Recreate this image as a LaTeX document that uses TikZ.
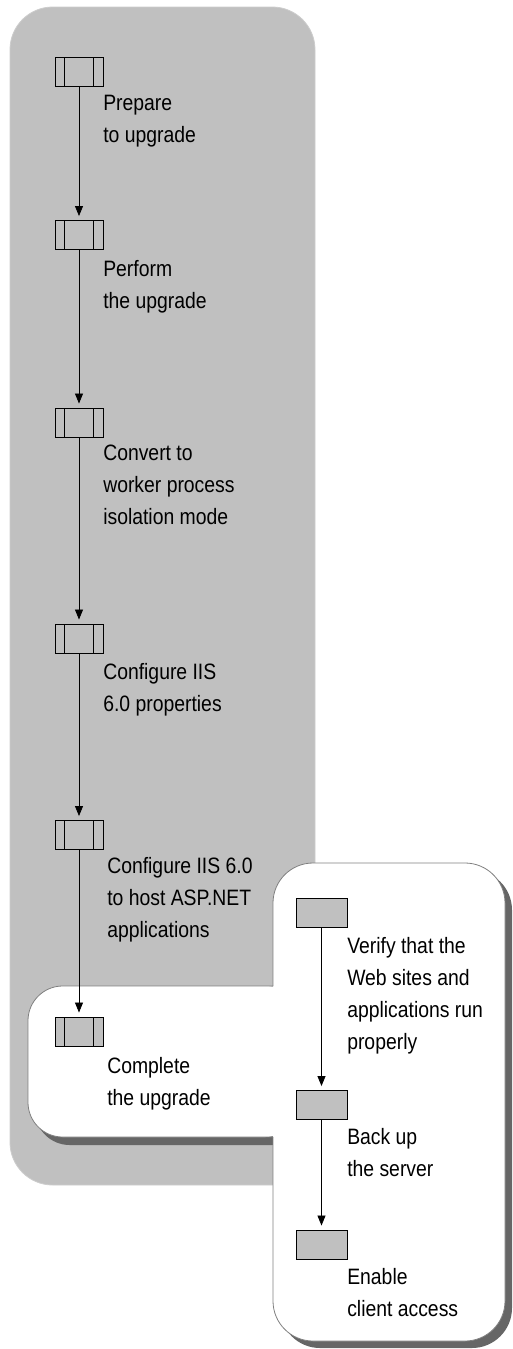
\documentclass[tikz,border=0pt]{standalone}
\usepackage{fontspec}
\setmainfont{Liberation Sans}[FakeStretch=0.87]
\usepackage{tikz}
\usetikzlibrary{arrows.meta}
\definecolor{panelgray}{HTML}{C0C0C0}
\definecolor{shadowgray}{HTML}{666666}
\definecolor{rimgray}{HTML}{808080}

\begin{document}
\begin{tikzpicture}[x=0.75pt, y=-0.75pt,
    stepbox/.style={draw, fill=panelgray, line width=0.7pt, minimum width=36pt, minimum height=21.75pt, inner sep=0pt,
        path picture={
            \draw[line width=0.7pt] ([xshift=6.75pt]path picture bounding box.north west) -- ([xshift=6.75pt]path picture bounding box.south west);
            \draw[line width=0.7pt] ([xshift=-7.5pt]path picture bounding box.north east) -- ([xshift=-7.5pt]path picture bounding box.south east);}},
    taskbox/.style={draw, fill=panelgray, line width=0.7pt, minimum width=38.25pt, minimum height=21.75pt, inner sep=0pt},
    lbl/.style={anchor=north west, inner sep=0pt, align=left, font=\fontsize{16.7}{24}\selectfont},
    flow/.style={line width=0.6pt, -{Triangle[length=7.5pt, width=6pt]}, shorten >=3pt}]
    \useasboundingbox (0,0) rectangle (512,1349);

    % panels
    \filldraw[fill=panelgray, draw=panelgray!80!white, line width=0.6pt, rounded corners=32pt] (10,7) rectangle (315,1185);
    \fill[shadowgray, rounded corners=26pt, shift={(7,8)}] (28,986) rectangle (300,1137);
    \fill[shadowgray, rounded corners=30pt, shift={(7,7)}] (273,863) rectangle (505,1341);
    \fill[white, rounded corners=26pt] (28,986) rectangle (300,1137);
    \fill[white, rounded corners=30pt] (273,863) rectangle (505,1341);
    \draw[rimgray, line width=0.6pt, rounded corners=26pt] (273,986) -- (28,986) -- (28,1137) -- (273,1137);
    \draw[rimgray, line width=0.6pt, rounded corners=30pt] (273,986) -- (273,863) -- (505,863) -- (505,1341) -- (273,1341) -- (273,1137);

    % upgrade steps
    \node[stepbox] (prep) at (79,71.5) {};
    \node[stepbox] (perf) at (79,235) {};
    \node[stepbox] (conv) at (79,422.5) {};
    \node[stepbox] (props) at (79,638.5) {};
    \node[stepbox] (aspnet) at (79,835) {};
    \node[stepbox] (done) at (79,1031.5) {};

    \node[lbl] (prep-t) at (103,95) {Prepare\\to upgrade};
    \node[lbl] (perf-t) at (103,260) {Perform\\the upgrade};
    \node[lbl] (conv-t) at (103,445) {Convert to\\worker process\\isolation mode};
    \node[lbl] (props-t) at (103,663) {Configure IIS\\6.0 properties};
    \node[lbl] (aspnet-t) at (107,857) {Configure IIS 6.0\\to host ASP.NET\\applications};
    \node[lbl] (done-t) at (107,1057) {Complete\\the upgrade};

    \draw[flow] (prep) -- (perf);
    \draw[flow] (perf) -- (conv);
    \draw[flow] (conv) -- (props);
    \draw[flow] (props) -- (aspnet);
    \draw[flow] (aspnet) -- (done);

    % completing tasks
    \node[taskbox] (verify) at (321.5,912.5) {};
    \node[taskbox] (backup) at (321.5,1105) {};
    \node[taskbox] (enable) at (321.5,1244.5) {};

    \node[lbl] (verify-t) at (347,937) {Verify that the\\Web sites and\\applications run\\properly};
    \node[lbl] (backup-t) at (347,1128) {Back up\\the server};
    \node[lbl] (enable-t) at (347,1268) {Enable\\client access};

    \draw[flow] (verify) -- (backup);
    \draw[flow] (backup) -- (enable);
\end{tikzpicture}
\end{document}
